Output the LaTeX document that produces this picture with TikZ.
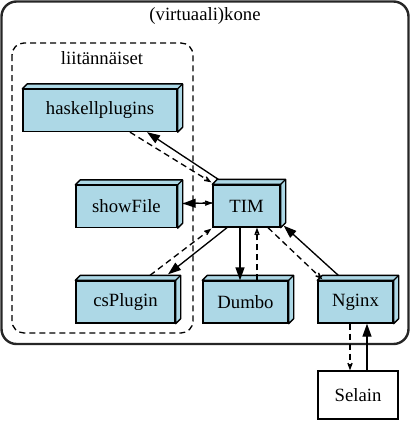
\documentclass[tikz,border=0pt]{standalone}
\usepackage{fontspec}
\setmainfont{Liberation Serif}
\usetikzlibrary{arrows.meta}
\definecolor{lightblue}{HTML}{ADD8E6}

\tikzset{
    box3d/.style={draw, fill=lightblue, line width=1.33pt, minimum height=42pt, inner sep=0pt},
    plainbox/.style={draw, fill=white, line width=1.33pt, inner sep=0pt},
    call/.style={line width=1.33pt, -{Triangle[length=13pt,width=9pt]}},
    reply/.style={line width=1.33pt, dash pattern=on 6pt off 4pt, -{Stealth[length=13pt,width=10pt,inset=8pt]}},
    lbl/.style={font=\fontsize{18.7}{22}\selectfont}
}

\begin{document}
\begin{tikzpicture}[x=1pt, y=-1pt, every node/.style={lbl}]

    \useasboundingbox (0,0) rectangle (410,421);

    % Draw the machine cluster
    \draw[line width=2.4pt, black!85, rounded corners=15pt] (1.5,1.5) rectangle (408.5,344);
    \node (kone) at (205,16) {(virtuaali)kone};

    % Draw the plugin cluster
    \draw[line width=1.33pt, dash pattern=on 6pt off 4pt, rounded corners=12pt] (12,43) rectangle (193,333);
    \node (liitannaiset) at (102,58) {liitännäiset};

    % Draw the services
    \node[box3d, minimum width=154pt] (haskellplugins) at (100,110.5) {haskellplugins};
    \node[box3d, minimum width=101pt] (showFile) at (126.5,206.5) {showFile};
    \node[box3d, minimum width=99pt] (csPlugin) at (125.5,302) {csPlugin};
    \node[box3d, minimum width=67pt] (TIM) at (246.5,206) {TIM};
    \node[box3d, minimum width=85pt] (Dumbo) at (245.5,302) {Dumbo};
    \node[box3d, minimum width=75pt] (Nginx) at (355.5,302) {Nginx};
    \node[plainbox, minimum width=80pt, minimum height=48pt] (Selain) at (358,395) {Selain};

    % Top and side faces of the boxes
    \foreach \n in {haskellplugins, showFile, csPlugin, TIM, Dumbo, Nginx} {
        \draw[fill=lightblue, line width=1.33pt, line join=round] (\n.north west) -- ++(5,-5)
            -- ([shift={(5,-5)}]\n.north east) -- ([shift={(5,-5)}]\n.south east)
            -- (\n.south east) -- (\n.north east) -- cycle;
        \draw[line width=1.33pt] (\n.north east) -- ++(5,-5);
    }

    % Connections between haskellplugins and TIM
    \draw[call] ([shift={(6,-5)}]TIM.north west) -- ([xshift=47pt]haskellplugins.south);
    \draw[reply] ([xshift=30pt]haskellplugins.south) -- ([shift={(-1,-2)}]TIM.north west);

    % Connections between showFile and TIM
    \draw[reply] ([shift={(5,-3)}]showFile.east) -- ([shift={(0,-3)}]TIM.west);
    \draw[call] ([shift={(0,-3)}]TIM.west) -- ([shift={(5,-3)}]showFile.east);

    % Connections between csPlugin and TIM
    \draw[call] ([xshift=-19.5pt]TIM.south) -- ([shift={(42.5,-6)}]csPlugin.north);
    \draw[reply] ([shift={(24.5,-5)}]csPlugin.north) -- ([shift={(-1,1)}]TIM.south west);

    % Connections between Dumbo and TIM
    \draw[call] ([xshift=-6.5pt]TIM.south) -- ([xshift=-5.5pt]Dumbo.north);
    \draw[reply] ([xshift=11.5pt]Dumbo.north) -- ([xshift=10.5pt]TIM.south);

    % Connections between Nginx and TIM
    \draw[reply] ([xshift=21.5pt]TIM.south) -- ([shift={(5,-1)}]Nginx.north west);
    \draw[call] ([shift={(21,-5)}]Nginx.north west) -- ([shift={(3,-2)}]TIM.south east);

    % Connections between Nginx and the browser
    \draw[reply] ([xshift=-5.5pt]Nginx.south) -- ([xshift=-8pt]Selain.north);
    \draw[call] ([xshift=9pt]Selain.north) -- ([xshift=11.5pt]Nginx.south);

\end{tikzpicture}
\end{document}
